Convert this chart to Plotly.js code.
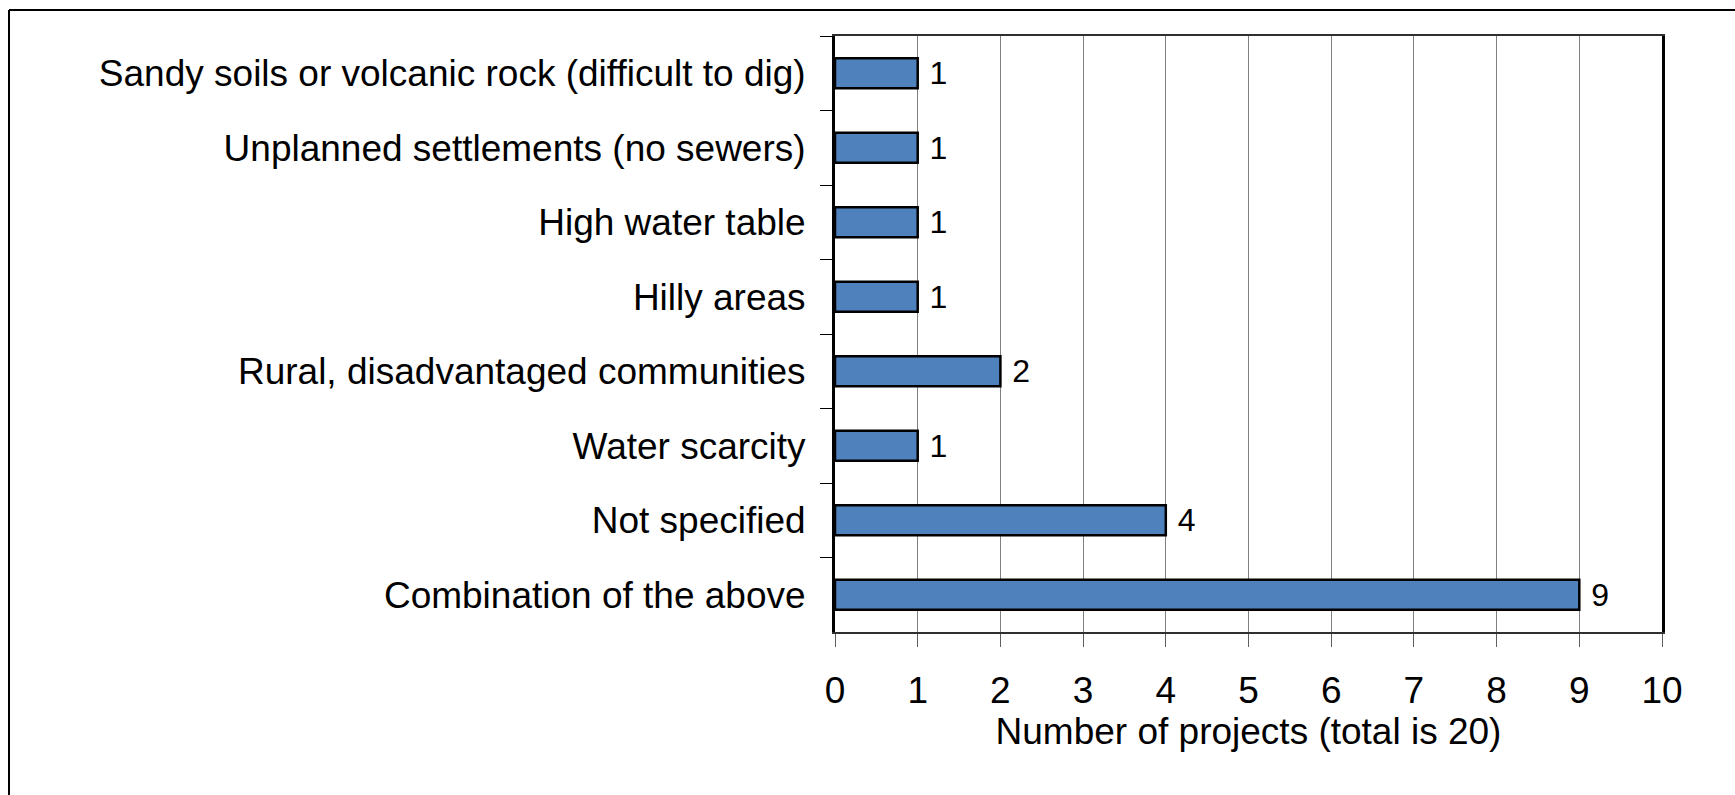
<!DOCTYPE html>
<html>
<head>
<meta charset="utf-8">
<script src="https://cdn.plot.ly/plotly-3.0.1.min.js"></script>
<style>
  html, body { margin: 0; padding: 0; background: #fff; }
  #chart { width: 1735px; height: 795px; }
</style>
</head>
<body>
<div id="chart"></div>
<script>
const categories = [
  "Sandy soils or volcanic rock (difficult to dig)",
  "Unplanned settlements (no sewers)",
  "High water table",
  "Hilly areas",
  "Rural, disadvantaged communities",
  "Water scarcity",
  "Not specified",
  "Combination of the above"
];
const projectCounts = [1, 1, 1, 1, 2, 1, 4, 9];
const xTickValues = [0, 1, 2, 3, 4, 5, 6, 7, 8, 9, 10];
const xTitle = "Number of projects (total is 20)";

const W = 1735, H = 795;
const m = { l: 835, r: 73, t: 36, b: 163 };
const pw = W - m.l - m.r, ph = H - m.t - m.b;
const borderX = (9 - m.l) / pw;
const borderY = 1 + (m.t - 10) / ph;

const trace = {
  type: "bar",
  orientation: "h",
  y: categories,
  x: projectCounts,
  text: projectCounts.map(v => "\u00a0" + v),
  textposition: "outside",
  constraintext: "none",
  cliponaxis: false,
  textfont: { family: "Liberation Sans, Arial, sans-serif", size: 32, color: "#000" },
  marker: { color: "#4F81BD", line: { color: "#000", width: 2.5 } },
  hoverinfo: "none"
};

const layout = {
  width: W, height: H,
  margin: m,
  paper_bgcolor: "#fff",
  plot_bgcolor: "#fff",
  showlegend: false,
  bargap: 0.6,
  font: { family: "Liberation Sans, Arial, sans-serif", color: "#000" },
  xaxis: {
    range: [0, 10],
    tickvals: xTickValues,
    ticktext: xTickValues.map(String),
    showgrid: true,
    gridcolor: "#808080",
    gridwidth: 1,
    zeroline: false,
    showline: true,
    linecolor: "#303030",
    linewidth: 2,
    mirror: true,
    ticks: "outside",
    ticklen: 13,
    tickcolor: "#606060",
    tickwidth: 1,
    tickfont: { size: 37, color: "#000" },
    ticklabelstandoff: 12,
    title: { text: xTitle, font: { size: 37, color: "#000" }, standoff: 2 },
    fixedrange: true
  },
  yaxis: {
    type: "category",
    autorange: "reversed",
    showgrid: false,
    zeroline: false,
    showline: true,
    linecolor: "#000",
    linewidth: 3,
    mirror: true,
    ticks: "outside",
    tickson: "boundaries",
    ticklen: 12,
    tickcolor: "#000",
    tickwidth: 1,
    tickfont: { size: 37, color: "#000" },
    ticklabelstandoff: 19,
    fixedrange: true
  },
  shapes: [
    { type: "line", xref: "paper", yref: "paper", x0: borderX, x1: 2, y0: borderY, y1: borderY,
      line: { color: "#000", width: 2 } },
    { type: "line", xref: "paper", yref: "paper", x0: borderX, x1: borderX, y0: borderY, y1: -2,
      line: { color: "#000", width: 2 } }
  ]
};

Plotly.newPlot("chart", [trace], layout, { displayModeBar: false, staticPlot: true });
</script>
</body>
</html>
